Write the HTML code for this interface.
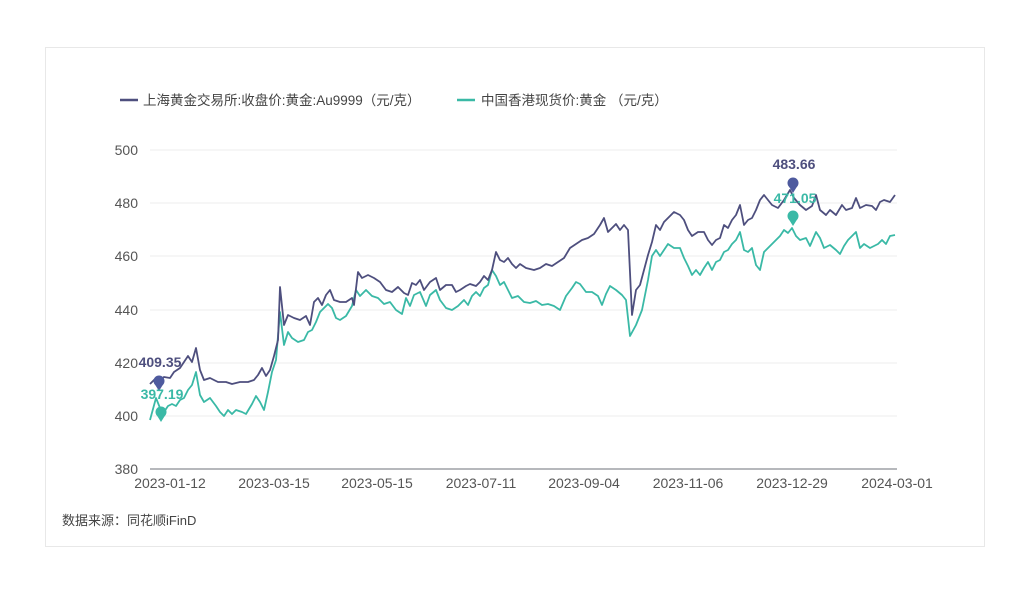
<!DOCTYPE html>
<html><head><meta charset="utf-8"><style>
body{margin:0;background:#fff;width:1030px;height:602px;overflow:hidden}
svg{font-family:"Liberation Sans","Noto Sans CJK SC",sans-serif}
</style></head><body>
<svg width="1030" height="602" xmlns="http://www.w3.org/2000/svg">
<rect x="45.5" y="47.5" width="939" height="499" fill="#fff" stroke="#e8e8e8"/>
<line x1="120" y1="100" x2="138" y2="100" stroke="#4e4f7e" stroke-width="2.5"/>
<text x="143" y="105" font-size="13.5" fill="#444">上海黄金交易所:收盘价:黄金:Au9999（元/克）</text>
<line x1="457" y1="100" x2="475" y2="100" stroke="#3ab9a6" stroke-width="2.5"/>
<text x="481" y="105" font-size="13.5" fill="#444">中国香港现货价:黄金 （元/克）</text>
<g stroke="#ececec" stroke-width="1">
<line x1="150" y1="150" x2="897" y2="150"/><line x1="150" y1="203" x2="897" y2="203"/><line x1="150" y1="256" x2="897" y2="256"/><line x1="150" y1="310" x2="897" y2="310"/><line x1="150" y1="363" x2="897" y2="363"/><line x1="150" y1="416" x2="897" y2="416"/>
</g>
<line x1="150" y1="469" x2="897" y2="469" stroke="#6e7079" stroke-width="1"/>
<g font-size="14" fill="#555" text-anchor="end">
<text x="138" y="155">500</text><text x="138" y="208">480</text><text x="138" y="261">460</text><text x="138" y="315">440</text><text x="138" y="368">420</text><text x="138" y="421">400</text><text x="138" y="474">380</text>
</g>
<g font-size="14" fill="#555" text-anchor="middle">
<text x="170" y="488">2023-01-12</text><text x="274" y="488">2023-03-15</text><text x="377" y="488">2023-05-15</text><text x="481" y="488">2023-07-11</text><text x="584" y="488">2023-09-04</text><text x="688" y="488">2023-11-06</text><text x="792" y="488">2023-12-29</text><text x="897" y="488">2024-03-01</text>
</g>
<polyline fill="none" stroke="#3ab9a6" stroke-width="1.8" stroke-linejoin="round" points="150,420 156,398 160,408 164,412 168,406 172,404 176,406 180,400 184,398 188,390 192,385 196,372 200,395 204,402 210,398 216,406 220,412 224,416 228,410 232,414 236,410 242,412 246,414 252,404 256,396 260,402 264,410 268,392 272,372 276,360 280,312 284,345 288,332 292,338 298,342 304,340 308,332 312,330 316,322 320,312 324,308 328,304 332,308 336,318 340,320 346,316 352,306 356,290 360,296 366,290 372,296 378,298 384,304 390,302 396,310 402,314 406,298 410,306 414,295 420,292 426,306 430,295 436,290 440,300 446,308 452,310 458,306 464,300 468,305 472,296 476,292 480,296 484,288 488,285 492,270 496,276 500,285 504,282 508,290 512,298 518,296 524,302 530,303 536,301 542,305 548,304 554,306 560,310 566,296 572,288 576,282 580,284 586,292 592,292 598,296 602,305 606,294 610,286 616,290 622,295 626,300 630,336 636,325 642,310 648,280 652,256 656,250 660,256 664,250 668,244 674,248 680,248 684,258 688,266 692,275 696,270 700,275 704,268 708,262 712,270 716,262 720,260 724,252 728,250 732,244 736,240 740,232 744,250 748,252 752,248 756,265 760,270 764,252 768,248 772,244 776,240 780,236 784,230 788,233 792,228 796,236 800,240 806,238 810,246 816,232 820,238 824,248 830,245 836,250 840,254 844,246 848,240 852,236 856,232 860,248 864,244 870,248 874,246 878,244 882,240 886,244 890,236 895,235"/>
<polyline fill="none" stroke="#4e4f7e" stroke-width="1.8" stroke-linejoin="round" points="150,384 156,378 160,380 164,377 170,378 174,372 180,368 184,362 188,356 192,362 196,348 200,370 204,380 210,378 218,382 226,382 232,384 240,382 248,382 254,380 258,375 262,368 266,376 270,370 274,356 278,340 280,287 284,325 288,315 294,318 300,320 306,316 310,325 314,302 318,298 322,305 326,295 330,290 334,300 340,302 346,302 352,298 354,305 358,272 362,278 368,275 374,278 380,282 386,290 392,292 398,287 404,293 408,295 412,283 416,285 420,280 424,290 430,282 436,278 440,290 446,285 452,285 456,292 460,290 466,286 470,284 476,286 480,282 484,276 488,280 492,270 496,252 500,260 504,262 508,258 512,264 516,268 520,264 526,268 534,270 540,268 546,264 552,266 558,262 564,258 570,248 576,244 582,240 588,238 594,234 600,225 604,218 608,232 612,228 616,224 620,230 624,225 628,230 632,315 636,290 640,285 644,270 648,255 652,242 656,225 660,230 664,222 668,218 674,212 680,215 684,220 688,230 692,236 698,232 704,232 708,240 712,245 716,240 720,238 724,225 728,228 732,220 736,215 740,205 744,225 748,220 752,218 756,210 760,200 764,195 768,200 772,205 778,208 784,200 790,190 794,198 800,205 806,210 812,206 816,195 820,210 826,215 830,210 836,215 842,205 846,210 852,208 856,198 860,208 866,205 872,206 876,210 880,202 884,200 890,202 895,195"/>
<g fill="#4e5a9e"><circle cx="159" cy="381" r="5.5"/><path d="M154,383 L159,391 L164,383Z"/><circle cx="793" cy="183" r="5.5"/><path d="M788,185 L793,193 L798,185Z"/></g>
<g fill="#3ab9a6"><circle cx="161" cy="412" r="5.5"/><path d="M156,414 L161,422 L166,414Z"/><circle cx="793" cy="216" r="5.5"/><path d="M788,218 L793,226 L798,218Z"/></g>
<g font-size="14" font-weight="bold" text-anchor="middle">
<text x="160" y="367" fill="#4e4f7e">409.35</text><text x="162" y="399" fill="#3ab9a6">397.19</text>
<text x="794" y="169" fill="#4e4f7e">483.66</text><text x="795" y="203" fill="#3ab9a6">471.05</text>
</g>
<text x="62" y="525" font-size="13" fill="#444">数据来源：同花顺iFinD</text>
</svg>
</body></html>
